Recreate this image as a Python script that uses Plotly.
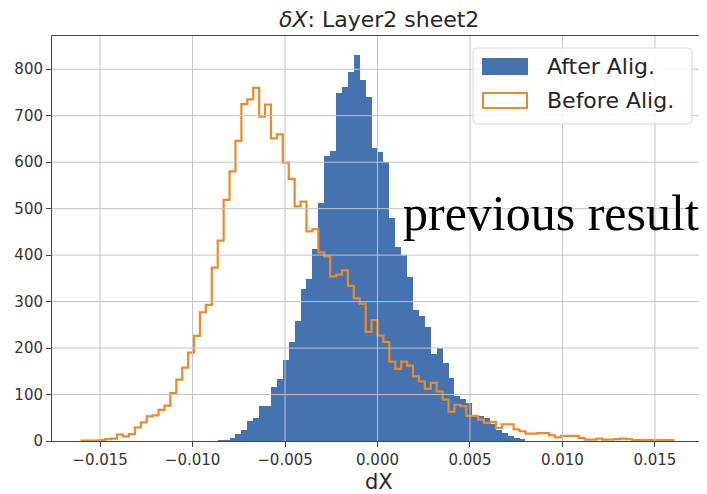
import plotly.graph_objects as go

# ---------------- data ----------------
BIN_MIN = -0.016
BIN_MAX = 0.016
N_BINS = 100

after_counts = [0] * 23 + [
    2, 2, 6, 15, 23, 43, 50, 75, 76, 117,
    133, 175, 212, 258, 327, 349, 414, 512, 613, 625,
    748, 762, 795, 830, 776, 740, 631, 621, 601, 480,
    418, 401, 352, 281, 268, 245, 188, 200, 167, 135,
    96, 90, 82, 57, 53, 50, 36, 24, 17, 10,
    6, 3,
] + [0] * 25

before_counts = [
    1, 1, 1, 2, 4, 5, 14, 10, 15, 29,
    40, 53, 55, 67, 76, 103, 132, 158, 190, 226,
    277, 293, 373, 431, 519, 580, 646, 725, 735, 760,
    698, 724, 651, 660, 599, 564, 505, 515, 451, 456,
    406, 397, 354, 358, 367, 334, 307, 295, 235, 260,
    227, 213, 171, 155, 171, 162, 139, 128, 112, 125,
    107, 89, 63, 78, 75, 54, 54, 46, 39, 41,
    28, 36, 36, 25, 21, 16, 16, 17, 17, 12,
    8, 11, 11, 11, 6, 3, 3, 5, 3, 3,
    4, 5, 4, 2, 2, 2, 2, 2, 2, 2,
]

series_names = ["After Alig.", "Before Alig."]
x_ticks = [-0.015, -0.010, -0.005, 0.000, 0.005, 0.010, 0.015]
y_ticks = [0, 100, 200, 300, 400, 500, 600, 700, 800]
title_text = "<i>δX</i>: Layer2 sheet2"
x_label = "dX"
note_text = "previous result"

# ---------------- derived ----------------
bw = (BIN_MAX - BIN_MIN) / N_BINS
edges = [BIN_MIN + i * bw for i in range(N_BINS + 1)]
centers = [(edges[i] + edges[i + 1]) / 2 for i in range(N_BINS)]

BLUE = "#4473b0"
ORANGE = "#ea8a2c"
FONT = "DejaVu Sans"
GRID = "#c4c4c4"
AXC = "#444444"

# the page body adds an 8px margin; compensate so the figure lands on the window
OFF = 8
FIG_W, FIG_H = 707 - OFF, 494 - OFF
PL, PR, PT, PB = 52, 703, 36, 441.3   # plot area in window pixels

fig = go.Figure()
fig.add_trace(go.Bar(
    x=centers, y=after_counts, width=bw,
    marker=dict(color=BLUE, line=dict(width=0)),
    name=series_names[0], showlegend=False,
))
step_x = [edges[0]] + edges[:-1] + [edges[-1]]
step_y = [0] + before_counts + [0]
fig.add_trace(go.Scatter(
    x=step_x, y=step_y, mode="lines", line=dict(color=ORANGE, width=2.2, shape="hv"),
    name=series_names[1], showlegend=False,
))

ymax = max(max(after_counts), max(before_counts)) * 1.05
span = BIN_MAX - BIN_MIN
xr = [BIN_MIN - 0.05 * span, BIN_MAX + 0.05 * span]

shapes = []
for v in x_ticks:
    shapes.append(dict(type="line", xref="x", yref="paper", x0=v, x1=v, y0=0, y1=1,
                       line=dict(color=GRID, width=1), layer="above"))
for v in y_ticks[1:]:
    shapes.append(dict(type="line", xref="paper", yref="y", x0=0, x1=1, y0=v, y1=v,
                       line=dict(color=GRID, width=1), layer="above"))

W, H = PR - PL, PB - PT
def px(x):
    return (x - PL) / W
def py(y):
    return (PB - y) / H

lx0, lx1, ly0, ly1 = px(473), px(692), py(124), py(48)
rx, ry = 4 / W, 4 / H
path = (f"M {lx0+rx},{ly0} L {lx1-rx},{ly0} Q {lx1},{ly0} {lx1},{ly0+ry} "
        f"L {lx1},{ly1-ry} Q {lx1},{ly1} {lx1-rx},{ly1} L {lx0+rx},{ly1} "
        f"Q {lx0},{ly1} {lx0},{ly1-ry} L {lx0},{ly0+ry} Q {lx0},{ly0} {lx0+rx},{ly0} Z")
shapes.append(dict(type="path", xref="paper", yref="paper", path=path,
                   fillcolor="rgba(255,255,255,0.85)", line=dict(color="#d8d8d8", width=1),
                   layer="above"))
shapes.append(dict(type="rect", xref="paper", yref="paper",
                   x0=px(482), x1=px(528), y0=py(75), y1=py(58),
                   fillcolor=BLUE, line=dict(width=0), layer="above"))
shapes.append(dict(type="rect", xref="paper", yref="paper",
                   x0=px(483), x1=px(527), y0=py(108), y1=py(93),
                   fillcolor="white", line=dict(color=ORANGE, width=2), layer="above"))

annotations = [
    dict(xref="paper", yref="paper", x=px(545), y=py(67), xanchor="left", yanchor="middle",
         text=series_names[0], showarrow=False, font=dict(family=FONT, size=22, color="#262626")),
    dict(xref="paper", yref="paper", x=px(545), y=py(101), xanchor="left", yanchor="middle",
         text=series_names[1], showarrow=False, font=dict(family=FONT, size=22, color="#262626")),
    dict(xref="paper", yref="paper", x=px(401), y=py(213), xanchor="left", yanchor="middle",
         text=note_text, showarrow=False,
         font=dict(family="Liberation Serif", size=50, color="black")),
    dict(xref="paper", yref="paper", x=px(379), y=py(482), xanchor="center", yanchor="middle",
         text=x_label, showarrow=False, font=dict(family=FONT, size=21, color="#262626")),
    dict(xref="paper", yref="paper", x=px(379), y=py(19.5), xanchor="center", yanchor="middle",
         text=title_text, showarrow=False, font=dict(family=FONT, size=22, color="#262626")),
]

fig.update_layout(
    width=FIG_W, height=FIG_H,
    margin=dict(l=PL - OFF, r=707 - PR, t=PT - OFF, b=494 - PB, autoexpand=False),
    paper_bgcolor="white", plot_bgcolor="white",
    bargap=0,
    showlegend=False,
    font=dict(family=FONT, color="#333333"),
    shapes=shapes,
    annotations=annotations,
)
fig.update_xaxes(
    range=xr, tickvals=x_ticks, tickformat=".3f",
    showgrid=False, zeroline=False,
    showline=True, mirror=True, linecolor=AXC, linewidth=1,
    ticks="outside", ticklen=5, tickcolor=AXC,
    tickfont=dict(family=FONT, size=15, color="#333333"),
)
fig.update_yaxes(
    range=[0, ymax], tickvals=y_ticks,
    showgrid=False, zeroline=False,
    showline=True, mirror=True, linecolor=AXC, linewidth=1,
    ticks="outside", ticklen=5, tickcolor=AXC,
    tickfont=dict(family=FONT, size=15, color="#333333"),
)

fig.write_html("out.html")
